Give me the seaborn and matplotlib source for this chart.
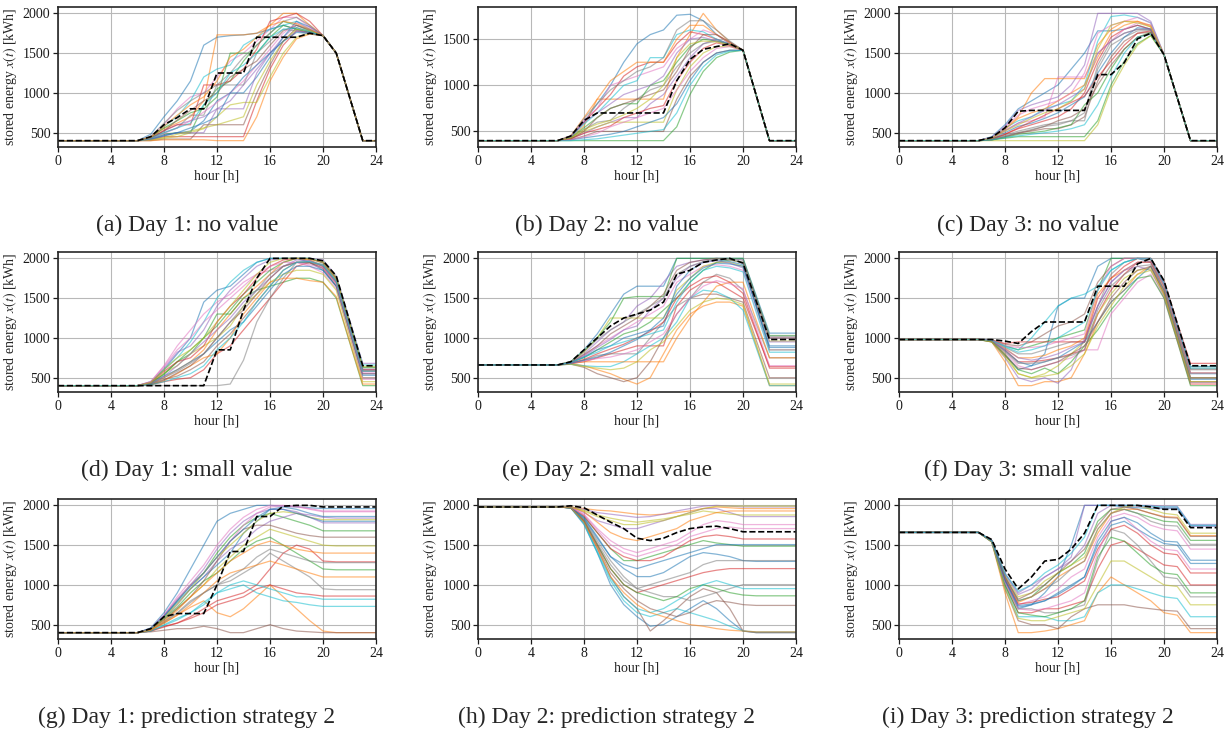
import matplotlib
matplotlib.use('Agg')
import matplotlib.pyplot as plt
import matplotlib.ticker as mticker
import pandas as pd
import seaborn as sns

hours = list(range(25))

# ---- Day 1, no value ----
day1_none_ref = [400,400,400,400,400,400,400,450,600,690,800,800,1250,1250,1250,1700,1700,1700,1700,1750,1720,1500,950,400,400]
day1_none_runs = [
    [400,400,400,400,400,400,400,480,700,900,1150,1600,1700,1720,1730,1750,1800,1850,1800,1760,1720,1500,950,400,400],
    [400,400,400,400,400,400,400,450,550,620,700,900,1730,1730,1730,1750,1850,2000,2000,1850,1720,1500,950,400,400],
    [400,400,400,400,400,400,400,420,480,500,500,850,1050,1150,1400,1600,1750,1900,1850,1780,1720,1500,950,400,400],
    [400,400,400,400,400,400,400,410,450,450,450,450,450,450,450,900,1300,1600,1780,1760,1720,1500,950,400,400],
    [400,400,400,400,400,400,400,430,520,600,650,700,800,900,1100,1300,1500,1700,1850,1800,1720,1500,950,400,400],
    [400,400,400,400,400,400,400,400,420,420,420,600,600,600,600,1000,1350,1650,1820,1770,1720,1500,950,400,400],
    [400,400,400,400,400,400,400,450,600,800,950,1000,1200,1400,1500,1650,1800,1950,1950,1830,1720,1500,950,400,400],
    [400,400,400,400,400,400,400,420,500,560,720,720,1100,1100,1100,1500,1650,1800,1780,1740,1720,1500,950,400,400],
    [400,400,400,400,400,400,400,410,430,450,500,550,700,850,880,880,1200,1500,1700,1750,1720,1500,950,400,400],
    [400,400,400,400,400,400,400,440,580,700,900,1200,1300,1350,1600,1700,1800,1850,1900,1800,1720,1500,950,400,400],
    [400,400,400,400,400,400,400,420,470,500,520,650,900,1000,1000,1200,1450,1700,1900,1830,1720,1500,950,400,400],
    [400,400,400,400,400,400,400,400,410,410,410,410,400,400,400,700,1150,1450,1680,1740,1720,1500,950,400,400],
    [400,400,400,400,400,400,400,440,560,650,750,800,950,1500,1500,1500,1700,1850,1800,1760,1720,1500,950,400,400],
    [400,400,400,400,400,400,400,430,530,600,600,1100,1100,1150,1300,1550,1900,1950,2000,1900,1720,1500,950,400,400],
    [400,400,400,400,400,400,400,410,460,500,500,500,800,800,800,1250,1500,1650,1780,1760,1720,1500,950,400,400],
    [400,400,400,400,400,400,400,430,520,660,780,900,1000,1200,1300,1400,1600,1780,1850,1790,1720,1500,950,400,400],
    [400,400,400,400,400,400,400,420,490,560,650,760,880,1000,1150,1350,1550,1750,1880,1820,1720,1500,950,400,400],
    [400,400,400,400,400,400,400,450,620,780,900,1000,1100,1250,1450,1600,1750,1900,1950,1850,1720,1500,950,400,400],
    [400,400,400,400,400,400,400,410,440,480,520,560,600,650,700,1100,1400,1650,1800,1780,1720,1500,950,400,400],
    [400,400,400,400,400,400,400,430,500,560,620,850,1000,1250,1350,1500,1700,1800,1820,1770,1720,1500,950,400,400],
    [400,400,400,400,400,400,400,420,460,500,560,620,700,1000,1200,1350,1500,1650,1760,1750,1720,1500,950,400,400],
    [400,400,400,400,400,400,400,440,580,720,850,950,1150,1450,1550,1700,1850,1900,1870,1800,1720,1500,950,400,400],
]

# ---- Day 2, no value ----
day2_none_ref = [400,400,400,400,400,400,400,450,620,700,700,700,700,700,700,1050,1280,1390,1420,1450,1380,890,400,400,400]
day2_none_runs = [
    [400,400,400,400,400,400,400,450,600,800,1000,1250,1450,1550,1600,1760,1770,1700,1550,1450,1380,890,400,400,400],
    [400,400,400,400,400,400,400,430,560,850,850,850,850,850,850,1300,1550,1780,1600,1470,1380,890,400,400,400],
    [400,400,400,400,400,400,400,400,400,400,400,400,400,400,400,550,900,1150,1300,1360,1380,890,400,400,400],
    [400,400,400,400,400,400,400,440,600,750,900,1100,1200,1250,1250,1450,1580,1550,1500,1440,1380,890,400,400,400],
    [400,400,400,400,400,400,400,420,480,550,600,650,650,800,900,1100,1300,1450,1500,1450,1380,890,400,400,400],
    [400,400,400,400,400,400,400,410,450,500,500,500,500,500,500,850,1100,1250,1350,1380,1380,890,400,400,400],
    [400,400,400,400,400,400,400,450,620,750,1000,1050,1100,1150,1200,1400,1500,1600,1550,1460,1380,890,400,400,400],
    [400,400,400,400,400,400,400,430,520,600,620,750,850,950,1000,1200,1350,1450,1480,1450,1380,890,400,400,400],
    [400,400,400,400,400,400,400,420,500,550,600,600,600,600,600,950,1200,1350,1420,1420,1380,890,400,400,400],
    [400,400,400,400,400,400,400,440,580,700,850,1000,1050,1300,1300,1550,1600,1580,1500,1440,1380,890,400,400,400],
    [400,400,400,400,400,400,400,410,430,450,470,500,550,600,650,800,1050,1250,1350,1380,1380,890,400,400,400],
    [400,400,400,400,400,400,400,450,650,850,1050,1150,1250,1250,1250,1500,1650,1650,1550,1460,1380,890,400,400,400],
    [400,400,400,400,400,400,400,430,540,650,750,800,800,1000,1050,1250,1420,1500,1480,1440,1380,890,400,400,400],
    [400,400,400,400,400,400,400,420,480,520,560,650,700,750,780,1050,1250,1400,1460,1430,1380,890,400,400,400],
    [400,400,400,400,400,400,400,440,600,700,800,900,950,1000,1100,1350,1500,1520,1480,1440,1380,890,400,400,400],
    [400,400,400,400,400,400,400,420,500,650,750,800,850,900,950,1150,1400,1550,1550,1470,1380,890,400,400,400],
    [400,400,400,400,400,400,400,410,440,480,550,600,650,700,750,950,1150,1300,1400,1420,1380,890,400,400,400],
    [400,400,400,400,400,400,400,450,640,800,950,1050,1150,1200,1300,1600,1700,1700,1600,1480,1380,890,400,400,400],
    [400,400,400,400,400,400,400,430,520,580,620,680,750,850,1000,1300,1450,1480,1470,1440,1380,890,400,400,400],
    [400,400,400,400,400,400,400,400,410,420,440,460,480,500,520,700,1000,1200,1330,1370,1380,890,400,400,400],
]

# ---- Day 3, no value ----
day3_none_ref = [400,400,400,400,400,400,400,440,560,770,780,780,780,780,780,1230,1230,1380,1680,1750,1480,940,400,400,400]
day3_none_runs = [
    [400,400,400,400,400,400,400,450,600,800,900,1000,1100,1300,1500,1780,1780,1800,1850,1800,1480,940,400,400,400],
    [400,400,400,400,400,400,400,430,550,700,1000,1180,1180,1180,1180,1600,1800,1900,1900,1830,1480,940,400,400,400],
    [400,400,400,400,400,400,400,410,430,450,450,450,450,450,450,650,1100,1400,1620,1720,1480,940,400,400,400],
    [400,400,400,400,400,400,400,420,480,550,600,650,700,800,1000,1400,1700,1800,1850,1800,1480,940,400,400,400],
    [400,400,400,400,400,400,400,440,580,780,850,900,950,1100,1350,2000,2000,2000,2000,1900,1480,940,400,400,400],
    [400,400,400,400,400,400,400,410,450,500,520,550,550,600,700,1150,1450,1650,1750,1760,1480,940,400,400,400],
    [400,400,400,400,400,400,400,430,520,620,650,700,1200,1200,1200,1500,1650,1800,1880,1850,1480,940,400,400,400],
    [400,400,400,400,400,400,400,420,470,520,560,600,620,650,650,1300,1600,1700,1780,1780,1480,940,400,400,400],
    [400,400,400,400,400,400,400,400,400,400,400,400,400,400,400,600,1050,1350,1600,1720,1480,940,400,400,400],
    [400,400,400,400,400,400,400,440,560,650,700,800,850,900,1100,1650,1960,1980,1950,1880,1480,940,400,400,400],
    [400,400,400,400,400,400,400,420,500,580,620,680,750,850,950,1250,1500,1700,1820,1800,1480,940,400,400,400],
    [400,400,400,400,400,400,400,430,540,680,750,800,900,1000,1100,1450,1750,1850,1900,1850,1480,940,400,400,400],
    [400,400,400,400,400,400,400,410,440,480,500,520,560,600,850,1000,1300,1550,1700,1760,1480,940,400,400,400],
    [400,400,400,400,400,400,400,420,480,560,640,720,800,880,960,1200,1400,1600,1750,1780,1480,940,400,400,400],
    [400,400,400,400,400,400,400,430,530,620,700,780,850,950,1050,1500,1650,1750,1800,1800,1480,940,400,400,400],
    [400,400,400,400,400,400,400,410,450,490,530,580,650,700,800,1100,1350,1550,1700,1750,1480,940,400,400,400],
    [400,400,400,400,400,400,400,440,570,720,800,850,900,1000,1250,1750,1850,1900,1950,1880,1480,940,400,400,400],
    [400,400,400,400,400,400,400,420,460,500,540,580,600,650,750,1350,1650,1750,1800,1790,1480,940,400,400,400],
    [400,400,400,400,400,400,400,430,520,600,680,750,800,900,1050,1550,1850,1900,1880,1830,1480,940,400,400,400],
    [400,400,400,400,400,400,400,410,440,460,480,500,520,550,600,850,1200,1500,1700,1740,1480,940,400,400,400],
]

# ---- Day 1, small value ----
day1_small_ref = [400,400,400,400,400,400,400,400,400,400,400,400,850,850,1350,1750,2000,2000,2000,2000,1970,1780,1215,650,650]
day1_small_runs = [
    [400,400,400,400,400,400,400,450,600,800,1000,1450,1600,1650,1800,1950,2000,2000,2000,1950,1850,1650,1100,550,550],
    [400,400,400,400,400,400,400,420,500,600,700,850,1100,1300,1500,1650,1800,1950,2000,1980,1900,1700,1150,600,600],
    [400,400,400,400,400,400,400,430,550,700,800,1000,1300,1300,1500,1600,1650,1700,1750,1750,1700,1500,950,400,400],
    [400,400,400,400,400,400,400,410,450,480,500,600,800,900,1100,1300,1500,1700,1900,1950,1900,1700,1150,600,600],
    [400,400,400,400,400,400,400,440,620,820,900,1100,1400,1600,1750,1900,1980,2000,2000,2000,1980,1780,1230,680,680],
    [400,400,400,400,400,400,400,420,480,520,600,700,900,1050,1250,1450,1650,1850,1950,1950,1870,1650,1080,500,500],
    [400,400,400,400,400,400,400,450,650,900,1100,1300,1450,1550,1700,1800,1850,1900,1950,1900,1820,1620,1050,480,480],
    [400,400,400,400,400,400,400,400,400,400,400,400,400,420,720,1200,1500,1750,1950,1970,1920,1720,1170,620,620],
    [400,400,400,400,400,400,400,430,560,650,800,900,1000,1150,1400,1550,1700,1800,1850,1850,1800,1600,1020,450,450],
    [400,400,400,400,400,400,400,440,600,750,950,1200,1500,1700,1850,1950,2000,2000,2000,2000,1960,1760,1210,660,660],
    [400,400,400,400,400,400,400,420,520,600,700,800,950,1100,1200,1400,1600,1800,1900,1900,1850,1650,1100,530,530],
    [400,400,400,400,400,400,400,410,460,550,650,750,800,1000,1300,1500,1700,1750,1750,1720,1700,1520,960,420,420],
    [400,400,400,400,400,400,400,430,540,700,850,1000,1150,1350,1550,1700,1850,1950,2000,2000,1940,1740,1180,630,630],
    [400,400,400,400,400,400,400,440,580,700,750,900,1200,1400,1550,1750,1900,1980,2000,1990,1950,1750,1180,580,580],
    [400,400,400,400,400,400,400,430,520,650,800,950,1100,1250,1450,1600,1750,1900,1980,1970,1900,1700,1150,600,600],
    [400,400,400,400,400,400,400,410,470,560,650,800,1000,1200,1350,1550,1750,1900,1950,1940,1880,1680,1110,550,550],
    [400,400,400,400,400,400,400,450,640,850,1000,1200,1350,1500,1650,1800,1900,1950,1950,1920,1880,1680,1120,560,560],
    [400,400,400,400,400,400,400,420,500,580,680,800,1000,1200,1400,1600,1800,1900,1950,1950,1920,1720,1150,590,590],
    [400,400,400,400,400,400,400,440,600,750,850,1000,1200,1400,1600,1800,1950,2000,2000,1990,1960,1760,1200,640,640],
    [400,400,400,400,400,400,400,410,450,500,550,650,850,1000,1200,1450,1650,1850,1950,1960,1910,1710,1140,580,580],
]

# ---- Day 2, small value ----
day2_small_ref = [660,660,660,660,660,660,660,700,850,1000,1150,1250,1300,1350,1450,1800,1850,1950,1980,2000,1940,1460,980,980,980]
day2_small_runs = [
    [660,660,660,660,660,660,660,700,850,1050,1300,1550,1650,1650,1650,2000,2000,2000,2000,2000,2000,1530,1060,1060,1060],
    [660,660,660,660,660,660,660,680,650,600,550,480,420,500,800,1100,1300,1400,1450,1450,1400,900,400,400,400],
    [660,660,660,660,660,660,660,690,750,850,950,1050,1100,1200,1350,1500,1700,1850,1950,1980,1950,1400,850,850,850],
    [660,660,660,660,660,660,660,680,700,750,800,850,900,900,900,1400,1600,1700,1700,1600,1500,1070,640,640,640],
    [660,660,660,660,660,660,660,700,800,950,1100,1200,1400,1500,1700,1900,1950,1980,2000,2000,1980,1490,1000,1000,1000],
    [660,660,660,660,660,660,660,670,630,550,500,450,500,700,1000,1300,1500,1550,1550,1500,1450,970,500,500,500],
    [660,660,660,660,660,660,660,690,780,900,1000,1100,1200,1300,1400,1700,1800,1900,1920,1900,1850,1350,850,850,850],
    [660,660,660,660,660,660,660,680,720,780,800,800,800,1000,1200,1400,1500,1700,1800,1750,1600,1175,750,750,750],
    [660,660,660,660,660,660,660,700,820,1000,1250,1250,1250,1250,1250,1600,1750,1900,1950,1950,1900,1430,960,960,960],
    [660,660,660,660,660,660,660,670,650,640,640,700,800,900,1000,1200,1500,1600,1580,1500,1350,875,400,400,400],
    [660,660,660,660,660,660,660,690,760,850,900,1000,1050,1100,1150,1650,1850,1950,1980,1960,1920,1400,880,880,880],
    [660,660,660,660,660,660,660,680,700,700,700,700,700,700,700,1000,1250,1450,1650,1700,1700,1220,750,750,750],
    [660,660,660,660,660,660,660,700,840,1000,1200,1500,1520,1520,1520,2000,2000,2000,2000,2000,2000,1510,1030,1030,1030],
    [660,660,660,660,660,660,660,680,730,800,860,920,1000,1080,1200,1500,1650,1750,1780,1700,1560,1090,620,620,620],
    [660,660,660,660,660,660,660,690,770,880,980,1100,1150,1350,1500,1750,1900,1950,1970,1940,1880,1420,950,950,950],
    [660,660,660,660,660,660,660,690,790,900,1050,1150,1250,1400,1550,1850,1950,1980,2000,1980,1950,1470,1000,1000,1000],
    [660,660,660,660,660,660,660,680,710,740,760,800,850,950,1050,1300,1500,1650,1720,1680,1620,1130,650,650,650],
    [660,660,660,660,660,660,660,700,830,980,1100,1200,1300,1400,1500,1800,1900,1960,1990,1990,1980,1500,1020,1020,1020],
    [660,660,660,660,660,660,660,670,640,620,600,620,700,850,950,1150,1350,1450,1500,1480,1420,920,420,420,420],
    [660,660,660,660,660,660,660,690,760,820,900,950,1000,1050,1100,1450,1700,1850,1900,1880,1830,1320,820,820,820],
    [660,660,660,660,660,660,660,680,720,760,820,900,980,1100,1250,1550,1750,1880,1940,1930,1900,1400,900,900,900],
]

# ---- Day 3, small value ----
day3_small_ref = [980,980,980,980,980,980,980,980,960,930,1080,1200,1200,1200,1200,1650,1650,1650,1930,2000,1720,1180,650,650,650]
day3_small_runs = [
    [980,980,980,980,980,980,980,960,800,600,650,800,1400,1500,1500,1900,2000,2000,2000,1950,1650,1100,550,550,550],
    [980,980,980,980,980,980,980,950,700,400,400,450,450,500,800,1200,1450,1600,1800,1900,1550,980,420,420,420],
    [980,980,980,980,980,980,980,970,900,850,900,950,1000,1050,1100,1600,2000,2000,2000,2000,1700,1170,640,640,640],
    [980,980,980,980,980,980,980,960,850,700,700,720,750,800,850,1300,1600,1800,1950,1950,1600,1050,500,500,500],
    [980,980,980,980,980,980,980,950,750,500,450,500,430,600,1000,1400,1700,1850,1900,1850,1520,980,440,440,440],
    [980,980,980,980,980,980,980,970,920,900,950,1050,1150,1200,1300,1700,1900,2000,2000,1980,1690,1150,610,610,610],
    [980,980,980,980,980,980,980,960,820,650,600,650,700,750,850,850,1300,1500,1700,1800,1500,960,420,420,420],
    [980,980,980,980,980,980,980,970,880,800,800,850,900,950,950,1400,1800,1950,2000,2000,1680,1140,600,600,600],
    [980,980,980,980,980,980,980,960,800,550,500,550,650,800,950,1300,1550,1750,1850,1870,1580,1040,500,500,500],
    [980,980,980,980,980,980,980,970,900,850,1000,1200,1400,1500,1550,1650,1850,1950,2000,1990,1700,1160,620,620,620],
    [980,980,980,980,980,980,980,960,840,700,650,700,750,850,950,1200,1450,1600,1750,1900,1600,1040,480,480,480],
    [980,980,980,980,980,980,980,970,870,750,750,780,850,900,1000,1550,1750,1850,1950,1960,1640,1100,560,560,560],
    [980,980,980,980,980,980,980,950,780,600,550,620,550,700,900,1100,1350,1550,1750,1780,1500,960,400,400,400],
    [980,980,980,980,980,980,980,975,930,950,950,950,950,950,950,1500,1750,1900,2000,2000,1720,1190,680,680,680],
    [980,980,980,980,980,980,980,965,860,750,720,750,800,880,950,1400,1700,1850,1950,1960,1660,1110,560,560,560],
    [980,980,980,980,980,980,980,955,780,620,600,650,700,800,900,1200,1500,1700,1850,1900,1560,1000,450,450,450],
    [980,980,980,980,980,980,980,970,900,880,880,900,950,1000,1050,1600,1900,2000,2000,2000,1700,1170,640,640,640],
    [980,980,980,980,980,980,980,960,830,680,680,700,750,780,850,1350,1650,1800,1900,1920,1610,1060,500,500,500],
    [980,980,980,980,980,980,980,950,760,550,500,520,550,650,800,1150,1400,1650,1800,1850,1540,990,450,450,450],
    [980,980,980,980,980,980,980,970,890,820,850,900,1000,1100,1200,1600,1850,1950,2000,2000,1700,1170,640,640,640],
]

# ---- Day 1, prediction strategy 2 ----
day1_pred_ref = [400,400,400,400,400,400,400,450,600,640,640,640,1000,1420,1420,1860,1860,1990,2000,2000,1980,1980,1980,1980,1980]
day1_pred_runs = [
    [400,400,400,400,400,400,400,460,650,900,1200,1500,1800,1900,1950,2000,2000,1990,1980,1970,1960,1960,1960,1960,1960],
    [400,400,400,400,400,400,400,430,520,620,720,800,650,600,700,850,1000,850,700,550,420,400,400,400,400],
    [400,400,400,400,400,400,400,450,600,800,1000,1150,1400,1600,1750,1850,1900,1850,1800,1750,1680,1680,1680,1680,1680],
    [400,400,400,400,400,400,400,420,480,520,600,700,800,850,900,1000,1200,1400,1500,1450,1300,1290,1290,1290,1290],
    [400,400,400,400,400,400,400,440,580,750,950,1100,1300,1450,1550,1700,1800,1850,1900,1880,1850,1840,1840,1840,1840],
    [400,400,400,400,400,400,400,410,430,450,450,480,450,400,400,450,500,450,420,410,400,400,400,400,400],
    [400,400,400,400,400,400,400,450,620,850,1050,1250,1500,1700,1850,1950,2000,2000,1990,1950,1920,1920,1920,1920,1920],
    [400,400,400,400,400,400,400,430,540,650,800,900,1000,1050,1150,1250,1400,1300,1200,1100,950,940,940,940,940],
    [400,400,400,400,400,400,400,440,560,700,850,1000,1200,1350,1500,1600,1700,1650,1600,1550,1500,1490,1490,1490,1490],
    [400,400,400,400,400,400,400,420,500,580,650,750,900,950,1000,900,850,800,780,750,730,730,730,730,730],
    [400,400,400,400,400,400,400,450,600,780,950,1100,1250,1400,1650,1800,1950,1980,1950,1900,1860,1860,1860,1860,1860],
    [400,400,400,400,400,400,400,430,520,620,750,900,1050,1150,1200,1250,1300,1250,1200,1150,1100,1100,1100,1100,1100],
    [400,400,400,400,400,400,400,440,580,720,900,1050,1150,1300,1450,1550,1600,1500,1400,1300,1200,1190,1190,1190,1190],
    [400,400,400,400,400,400,400,420,470,520,580,650,750,800,850,950,1000,950,900,880,860,860,860,860,860],
    [400,400,400,400,400,400,400,450,610,820,1000,1200,1450,1650,1800,1900,1950,1950,1920,1850,1780,1780,1780,1780,1780],
    [400,400,400,400,400,400,400,440,560,700,850,1050,1300,1550,1700,1750,1750,1700,1650,1620,1600,1600,1600,1600,1600],
    [400,400,400,400,400,400,400,450,620,820,1000,1150,1350,1550,1750,1900,1980,1990,1980,1960,1930,1930,1930,1930,1930],
    [400,400,400,400,400,400,400,430,530,640,780,900,1000,1100,1200,1350,1450,1400,1350,1300,1280,1280,1280,1280,1280],
    [400,400,400,400,400,400,400,440,590,760,950,1150,1350,1500,1650,1800,1900,1920,1900,1850,1820,1820,1820,1820,1820],
    [400,400,400,400,400,400,400,420,490,560,650,780,900,1000,1050,1000,950,900,850,850,820,820,820,820,820],
    [400,400,400,400,400,400,400,450,610,800,980,1150,1350,1550,1700,1850,1950,1950,1900,1850,1800,1800,1800,1800,1800],
    [400,400,400,400,400,400,400,430,540,680,850,1000,1150,1300,1400,1500,1550,1500,1450,1420,1400,1400,1400,1400,1400],
]

# ---- Day 2, prediction strategy 2 ----
day2_pred_ref = [1970,1970,1970,1970,1970,1970,1970,1985,1960,1870,1780,1700,1580,1550,1580,1650,1700,1720,1730,1700,1660,1660,1660,1660,1660]
day2_pred_runs = [
    [1970,1970,1970,1970,1970,1970,1970,1960,1750,1400,1000,750,600,480,500,600,700,800,700,550,420,400,400,400,400],
    [1970,1970,1970,1970,1970,1970,1970,1970,1950,1930,1920,1900,1880,1870,1880,1900,1920,1950,1970,1960,1950,1950,1950,1950,1950],
    [1970,1970,1970,1970,1970,1970,1970,1960,1850,1650,1450,1300,1300,1350,1400,1450,1500,1550,1520,1500,1480,1480,1480,1480,1480],
    [1970,1970,1970,1970,1970,1970,1970,1960,1800,1500,1200,1000,900,950,1000,1050,1100,1150,1180,1200,1200,1200,1200,1200,1200],
    [1970,1970,1970,1970,1970,1970,1970,1970,1900,1800,1750,1700,1700,1750,1800,1850,1900,1950,1950,1900,1850,1850,1850,1850,1850],
    [1970,1970,1970,1970,1970,1970,1970,1960,1780,1450,1100,850,700,420,550,700,850,950,900,700,420,400,400,400,400],
    [1970,1970,1970,1970,1970,1970,1970,1965,1880,1700,1550,1450,1400,1450,1500,1550,1650,1750,1800,1780,1750,1750,1750,1750,1750],
    [1970,1970,1970,1970,1970,1970,1970,1960,1820,1550,1300,1100,950,900,850,850,800,850,900,950,1000,1000,1000,1000,1000],
    [1970,1970,1970,1970,1970,1970,1970,1970,1930,1870,1830,1800,1780,1800,1820,1850,1880,1920,1900,1880,1870,1870,1870,1870,1870],
    [1970,1970,1970,1970,1970,1970,1970,1960,1760,1400,1050,800,650,600,650,700,650,600,550,480,420,410,410,410,410],
    [1970,1970,1970,1970,1970,1970,1970,1960,1840,1600,1350,1200,1100,1100,1150,1250,1350,1400,1380,1350,1300,1290,1290,1290,1290],
    [1970,1970,1970,1970,1970,1970,1970,1970,1910,1780,1650,1580,1550,1600,1650,1700,1800,1850,1900,1920,1920,1920,1920,1920,1920],
    [1970,1970,1970,1970,1970,1970,1970,1960,1800,1500,1200,1000,900,850,800,850,950,1000,950,900,870,860,860,860,860],
    [1970,1970,1970,1970,1970,1970,1970,1965,1860,1650,1450,1350,1300,1300,1350,1450,1550,1600,1620,1600,1570,1570,1570,1570,1570],
    [1970,1970,1970,1970,1970,1970,1970,1970,1940,1900,1880,1860,1840,1850,1880,1920,1950,1980,1990,1980,1970,1970,1970,1970,1970],
    [1970,1970,1970,1970,1970,1970,1970,1960,1790,1480,1150,950,800,700,650,600,650,750,800,780,750,740,740,740,740],
    [1970,1970,1970,1970,1970,1970,1970,1965,1870,1680,1500,1400,1350,1400,1450,1500,1600,1650,1700,1720,1700,1700,1700,1700,1700],
    [1970,1970,1970,1970,1970,1970,1970,1960,1810,1520,1250,1050,950,1000,1050,1100,1150,1250,1300,1300,1300,1300,1300,1300,1300],
    [1970,1970,1970,1970,1970,1970,1970,1970,1920,1850,1800,1750,1750,1780,1800,1850,1900,1950,1980,1980,1980,1980,1980,1980,1980],
    [1970,1970,1970,1970,1970,1970,1970,1960,1770,1420,1080,850,700,650,700,800,900,1000,1050,1000,950,950,950,950,950],
    [1970,1970,1970,1970,1970,1970,1970,1960,1830,1580,1350,1250,1200,1250,1300,1350,1400,1450,1500,1500,1500,1500,1500,1500,1500],
    [1970,1970,1970,1970,1970,1970,1970,1960,1780,1460,1100,900,750,650,600,550,500,480,450,430,420,410,410,410,410],
]

# ---- Day 3, prediction strategy 2 ----
day3_pred_ref = [1660,1660,1660,1660,1660,1660,1660,1570,1200,950,1100,1300,1320,1450,1650,2000,2000,2000,2000,1980,1950,1950,1720,1720,1720]
day3_pred_runs = [
    [1660,1660,1660,1660,1660,1660,1660,1550,1050,700,750,900,1100,1500,2000,2000,2000,1980,1970,1960,1960,1960,1740,1740,1740],
    [1660,1660,1660,1660,1660,1660,1660,1540,900,400,400,420,450,500,550,900,1100,1000,900,800,650,620,400,400,400],
    [1660,1660,1660,1660,1660,1660,1660,1550,1100,800,850,1000,1150,1250,1400,1800,1950,1950,1900,1850,1800,1790,1560,1560,1560],
    [1660,1660,1660,1660,1660,1660,1660,1550,1000,650,650,700,700,750,800,1200,1500,1550,1450,1350,1250,1230,1000,1000,1000],
    [1660,1660,1660,1660,1660,1660,1660,1560,1150,900,1000,1100,1200,1300,1500,1900,2000,2000,2000,2000,1990,1990,1760,1760,1760],
    [1660,1660,1660,1660,1660,1660,1660,1540,950,550,500,500,450,600,700,750,750,750,720,700,680,670,450,450,450],
    [1660,1660,1660,1660,1660,1660,1660,1550,1080,750,800,850,950,1100,1200,1600,1850,1900,1850,1750,1700,1680,1450,1450,1450],
    [1660,1660,1660,1660,1660,1660,1660,1545,1020,700,700,650,650,700,750,1300,1700,1650,1500,1300,1100,1080,850,850,850],
    [1660,1660,1660,1660,1660,1660,1660,1555,1120,850,900,1050,1150,1250,1350,1700,1900,1980,2000,1950,1900,1880,1650,1650,1650],
    [1660,1660,1660,1660,1660,1660,1660,1540,980,600,600,600,550,550,600,900,1000,1000,950,900,850,830,600,600,600],
    [1660,1660,1660,1660,1660,1660,1660,1550,1060,720,750,800,900,1000,1100,1500,1750,1800,1700,1600,1520,1500,1270,1270,1270],
    [1660,1660,1660,1660,1660,1660,1660,1550,1100,780,850,950,1100,1200,1300,1650,1900,1950,1950,1900,1860,1850,1620,1620,1620],
    [1660,1660,1660,1660,1660,1660,1660,1545,1000,650,620,600,650,700,800,1350,1600,1550,1400,1250,1150,1130,900,900,900],
    [1660,1660,1660,1660,1660,1660,1660,1550,1070,760,780,820,850,950,1050,1450,1700,1750,1650,1500,1400,1380,1150,1150,1150],
    [1660,1660,1660,1660,1660,1660,1660,1560,1130,880,950,1100,1200,1350,2000,2000,2000,2000,1990,1980,1970,1970,1740,1740,1740],
    [1660,1660,1660,1660,1660,1660,1660,1555,1100,820,900,1000,1150,1300,1450,1750,1950,1980,1950,1900,1850,1840,1610,1610,1610],
    [1660,1660,1660,1660,1660,1660,1660,1545,1030,700,680,700,750,800,900,1400,1800,1850,1700,1550,1450,1430,1200,1200,1200],
    [1660,1660,1660,1660,1660,1660,1660,1550,1090,800,850,950,1050,1200,1300,1700,1900,1950,1900,1800,1750,1740,1510,1510,1510],
    [1660,1660,1660,1660,1660,1660,1660,1540,960,580,550,550,600,650,700,1000,1300,1300,1200,1100,1000,980,750,750,750],
    [1660,1660,1660,1660,1660,1660,1660,1560,1140,920,1000,1150,1250,1400,1600,2000,2000,2000,2000,1990,1980,1980,1750,1750,1750],
    [1660,1660,1660,1660,1660,1660,1660,1550,1060,740,760,800,880,980,1100,1550,1800,1850,1780,1650,1550,1540,1310,1310,1310],
]

captions = [
    '(a) Day 1: no value', '(b) Day 2: no value', '(c) Day 3: no value',
    '(d) Day 1: small value', '(e) Day 2: small value', '(f) Day 3: small value',
    '(g) Day 1: prediction strategy 2', '(h) Day 2: prediction strategy 2', '(i) Day 3: prediction strategy 2',
]
all_runs = [day1_none_runs, day2_none_runs, day3_none_runs,
            day1_small_runs, day2_small_runs, day3_small_runs,
            day1_pred_runs, day2_pred_runs, day3_pred_runs]
all_refs = [day1_none_ref, day2_none_ref, day3_none_ref,
            day1_small_ref, day2_small_ref, day3_small_ref,
            day1_pred_ref, day2_pred_ref, day3_pred_ref]

sns.set_style('whitegrid', {'axes.edgecolor': '0.15', 'grid.color': '0.72',
                            'xtick.bottom': True, 'ytick.left': True,
                            'xtick.color': '0.1', 'ytick.color': '0.1'})
plt.rcParams['font.family'] = ['Liberation Serif', 'DejaVu Serif']
plt.rcParams['mathtext.fontset'] = 'stix'

W, H = 1229, 735
fig = plt.figure(figsize=(W / 100, H / 100), dpi=100)

# pixel layout of the 3x3 grid
ax_left = [58, 478, 899]
ax_top = [7, 252, 499]
ax_w, ax_h = 318, 140
cap_x = [187, 607, 1028]
cap_y = [225, 470, 717]

for k in range(9):
    r, c = divmod(k, 3)
    ax = fig.add_axes([ax_left[c] / W, 1 - (ax_top[r] + ax_h) / H, ax_w / W, ax_h / H])
    runs = all_runs[k]
    df = pd.DataFrame([(f'run{i}', h, v) for i, run in enumerate(runs) for h, v in zip(hours, run)],
                      columns=['run', 'hour', 'energy'])
    sns.lineplot(data=df, x='hour', y='energy', hue='run', estimator=None,
                 palette=sns.color_palette('tab10', len(runs)), legend=False,
                 linewidth=0.9, alpha=0.55, ax=ax)
    sns.lineplot(x=hours, y=all_refs[k], color='black', linestyle='--', linewidth=1.2, ax=ax)

    ax.set_xlim(0, 24)
    ax.xaxis.set_major_locator(mticker.MultipleLocator(4))
    ax.yaxis.set_major_locator(mticker.MultipleLocator(500))
    ax.tick_params(labelsize=10, length=3.5, width=0.9, pad=2)
    ax.set_xlabel('hour [h]', fontsize=10, labelpad=1)
    ax.set_ylabel('stored energy $x(t)$ [kWh]', fontsize=10, labelpad=3)
    ax.grid(True, linewidth=0.8)
    for sp in ax.spines.values():
        sp.set_linewidth(1.2)
    fig.text(cap_x[c] / W, 1 - cap_y[r] / H, captions[k], ha='center', va='center', fontsize=17)

fig.savefig('out.png', dpi=100)
